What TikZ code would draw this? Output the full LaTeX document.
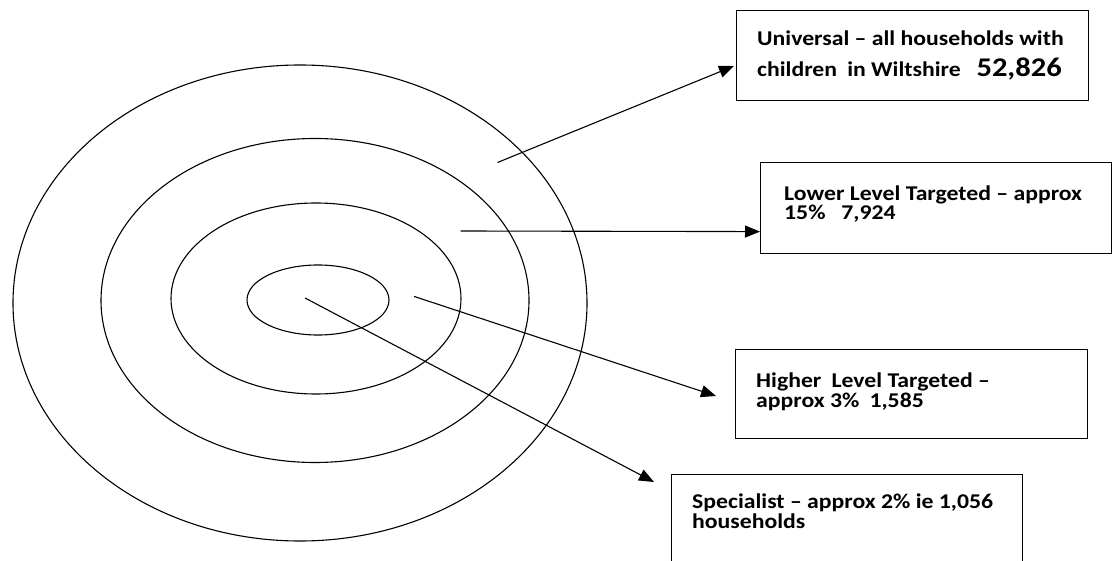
\documentclass[tikz,border=0pt]{standalone}
\usepackage{fontspec}
\setmainfont{Carlito}
\usetikzlibrary{arrows.meta}
\newcommand{\widetxt}[1]{\scalebox{1.13}[1]{#1}}
\tikzset{
  ring/.style={draw=black, line width=1.1pt},
  box/.style={draw=black, line width=1.2pt, anchor=north west, inner sep=0pt},
  txt/.style={anchor=base west, inner sep=0pt, font=\fontsize{21}{20}\selectfont\bfseries},
  pointer/.style={line width=1.1pt, -{Triangle[length=15pt,width=12pt]}}
}
\begin{document}
\begin{tikzpicture}[x=1pt, y=-1pt]
\useasboundingbox (0,0) rectangle (1120,561);
\clip (0,0) rectangle (1120,561);
% rings
\draw[ring] (300,303) ellipse [x radius=287, y radius=238];
\draw[ring] (315,300.5) ellipse [x radius=214, y radius=162];
\draw[ring] (316,298.5) ellipse [x radius=145, y radius=95.5];
\draw[ring] (318,300) ellipse [x radius=71, y radius=35];
% boxes
\node[box, minimum width=352pt, minimum height=90pt] (b1) at (736,10) {};
\node[box, minimum width=351pt, minimum height=91pt] (b2) at (760,162) {};
\node[box, minimum width=352pt, minimum height=89pt] (b3) at (735,349) {};
\node[box, minimum width=351pt, minimum height=120pt] (b4) at (671,474) {};
% texts
\node[txt] (t1a) at (757,45.5) {\widetxt{Universal – all households with}};
\node[txt] (t1b) at (757,76.5) {\widetxt{children\hspace{9pt}in Wiltshire\hspace{14pt}{\fontsize{27}{27}\selectfont 52,826}}};
\node[txt] (t2a) at (784,200.5) {\widetxt{Lower Level Targeted – approx}};
\node[txt] (t2b) at (784,220) {\widetxt{15\%\hspace{14pt}7,924}};
\node[txt] (t3a) at (756,388) {\widetxt{Higher\hspace{9pt}Level Targeted –}};
\node[txt] (t3b) at (756,407.5) {\widetxt{approx 3\%\hspace{9pt}1,585}};
\node[txt] (t4a) at (692,508) {\widetxt{Specialist – approx 2\% ie 1,056}};
\node[txt] (t4b) at (692,528) {\widetxt{households}};
% connector ends
\coordinate (s1) at (497.5,162.5);
\coordinate (e1) at (734,66);
\coordinate (s2) at (460.7,231);
\coordinate (e2) at ([yshift=-23.5pt]b2.west);
\coordinate (s3) at (414,296.4);
\coordinate (e3) at (716,396);
\coordinate (s4) at (305,298);
\coordinate (e4) at (654,482);
\draw[pointer] (s1) -- (e1);
\draw[pointer] (s2) -- (e2);
\draw[pointer] (s3) -- (e3);
\draw[pointer] (s4) -- (e4);
\end{tikzpicture}
\end{document}
